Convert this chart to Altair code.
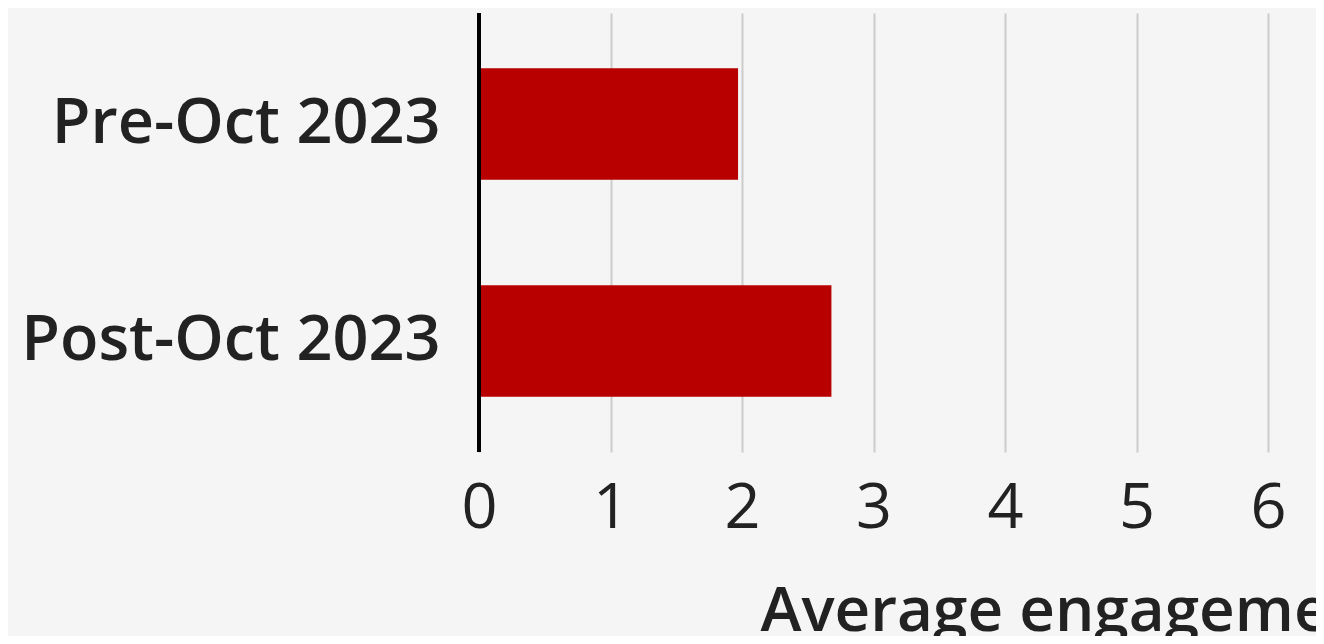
import altair as alt
import pandas as pd

periods = ["Pre-Oct 2023", "Post-Oct 2023"]
engagement = [1.97, 2.68]
x_ticks = [0, 1, 2, 3, 4, 5, 6]
x_max = 6.365
axis_title = "Average engagement"

df = pd.DataFrame({"period": periods, "engagement": engagement})
zero_df = pd.DataFrame({"x": [0]})

FONT = "Open Sans"
TEXT = "#222222"

bars = alt.Chart(df).mark_bar(color="#b80000").encode(
    x=alt.X(
        "engagement:Q",
        scale=alt.Scale(domain=[0, x_max], nice=False, zero=True),
        axis=alt.Axis(
            values=x_ticks, format="d", title=axis_title, ticks=False, domain=False,
            grid=True, gridColor="#cccccc", gridWidth=2,
            labelFont=FONT, labelFontSize=63, labelFontWeight=400, labelColor=TEXT,
            labelPadding=25, labelFlush=False, labelOverlap=False,
            titleFont=FONT, titleFontSize=62, titleFontWeight=600, titleColor=TEXT,
            titleX=281, titleY=178, titleAlign="left", titleAnchor="start",
            titleBaseline="alphabetic",
        ),
    ),
    y=alt.Y(
        "period:N", sort=periods,
        scale=alt.Scale(paddingInner=0.486, paddingOuter=0.2546),
        axis=alt.Axis(
            title=None, ticks=False, domain=False, grid=False,
            labelFont=FONT, labelFontSize=63, labelFontWeight=600,
            labelColor=TEXT, labelPadding=39, labelLimit=700,
        ),
    ),
)

zero = alt.Chart(zero_df).mark_rule(color="#000000", strokeWidth=4).encode(
    x=alt.X("x:Q")
)

chart = alt.layer(bars, zero).properties(
    width=837, height=439,
    autosize=alt.AutoSizeParams(type="none"),
    padding={"left": 471, "top": 5, "right": 0, "bottom": 184},
    background="#f5f5f5",
).configure_view(stroke=None)

chart.save("out.html", embed_options={"renderer": "svg", "actions": False})
